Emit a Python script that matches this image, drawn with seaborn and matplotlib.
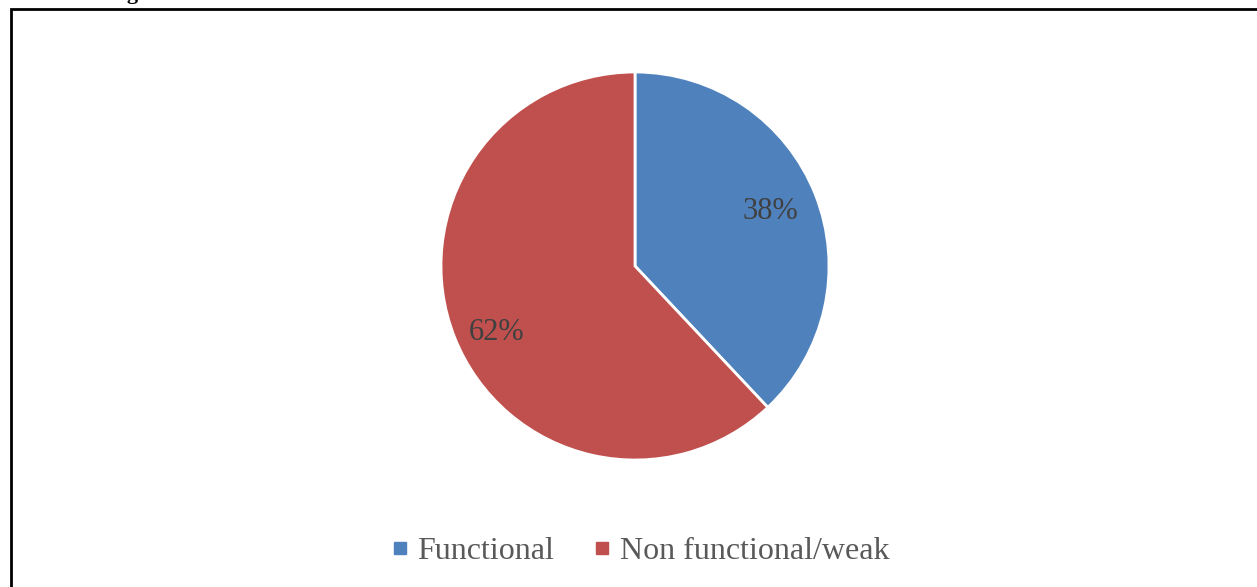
import matplotlib
matplotlib.use("Agg")
import matplotlib.pyplot as plt
from matplotlib.patches import Rectangle
from matplotlib.lines import Line2D
import seaborn as sns

# Share of respondents by status
categories = ["Functional", "Non functional/weak"]
shares = [38, 62]
colors = ["#4F81BD", "#C0504D"]

sns.set_theme(style="white")
plt.rcParams["font.family"] = ["Liberation Serif", "DejaVu Serif"]

W, H, DPI = 1257, 587, 100
fig = plt.figure(figsize=(W / DPI, H / DPI), dpi=DPI)
fig.patch.set_facecolor("white")

# Pie axes: centre (635, 266) px from top-left, radius 194 px
cx, cy, r = 635, 266, 194
lim = 1.1
side = 2 * lim * r
ax = fig.add_axes([(cx - side / 2) / W, (H - cy - side / 2) / H, side / W, side / H])

wedges, texts, autotexts = ax.pie(
    shares,
    colors=colors,
    startangle=90,
    counterclock=False,
    autopct="%d%%",
    pctdistance=0.77,
    wedgeprops=dict(edgecolor="white", linewidth=2),
    textprops=dict(fontsize=22, color="#404040"),
)
# small placement tweaks for the percentage labels
x0, y0 = autotexts[0].get_position()
autotexts[0].set_position((x0 - 0.02, y0))
x1, y1 = autotexts[1].get_position()
autotexts[1].set_position((x1, y1 - 0.06))

ax.set_xlim(-lim, lim)
ax.set_ylim(-lim, lim)
ax.set_aspect("equal")
ax.axis("off")

# Legend below the pie
handles = [
    Line2D([], [], marker="s", linestyle="none", markersize=8,
           markerfacecolor=c, markeredgecolor=c)
    for c in colors
]
fig.legend(
    handles, categories,
    loc="center", bbox_to_anchor=(638 / W, 1 - 551 / H),
    ncol=2, frameon=False, fontsize=23,
    labelcolor="#595959", handletextpad=0.15, columnspacing=1.1,
    handlelength=0.8,
)

# Outer chart border (open to the right and bottom)
fig.add_artist(Rectangle((11 / W, -0.1), 1.2, 1 - 9 / H + 0.1,
                         transform=fig.transFigure, fill=False,
                         edgecolor="black", linewidth=2.0))

# Caption above the chart
fig.text(108 / W, 1.0 + 1.5 / H, "Fig", fontsize=16, fontweight="bold",
         color="black", ha="left", va="baseline")

fig.savefig("out.png", dpi=DPI, facecolor="white")
